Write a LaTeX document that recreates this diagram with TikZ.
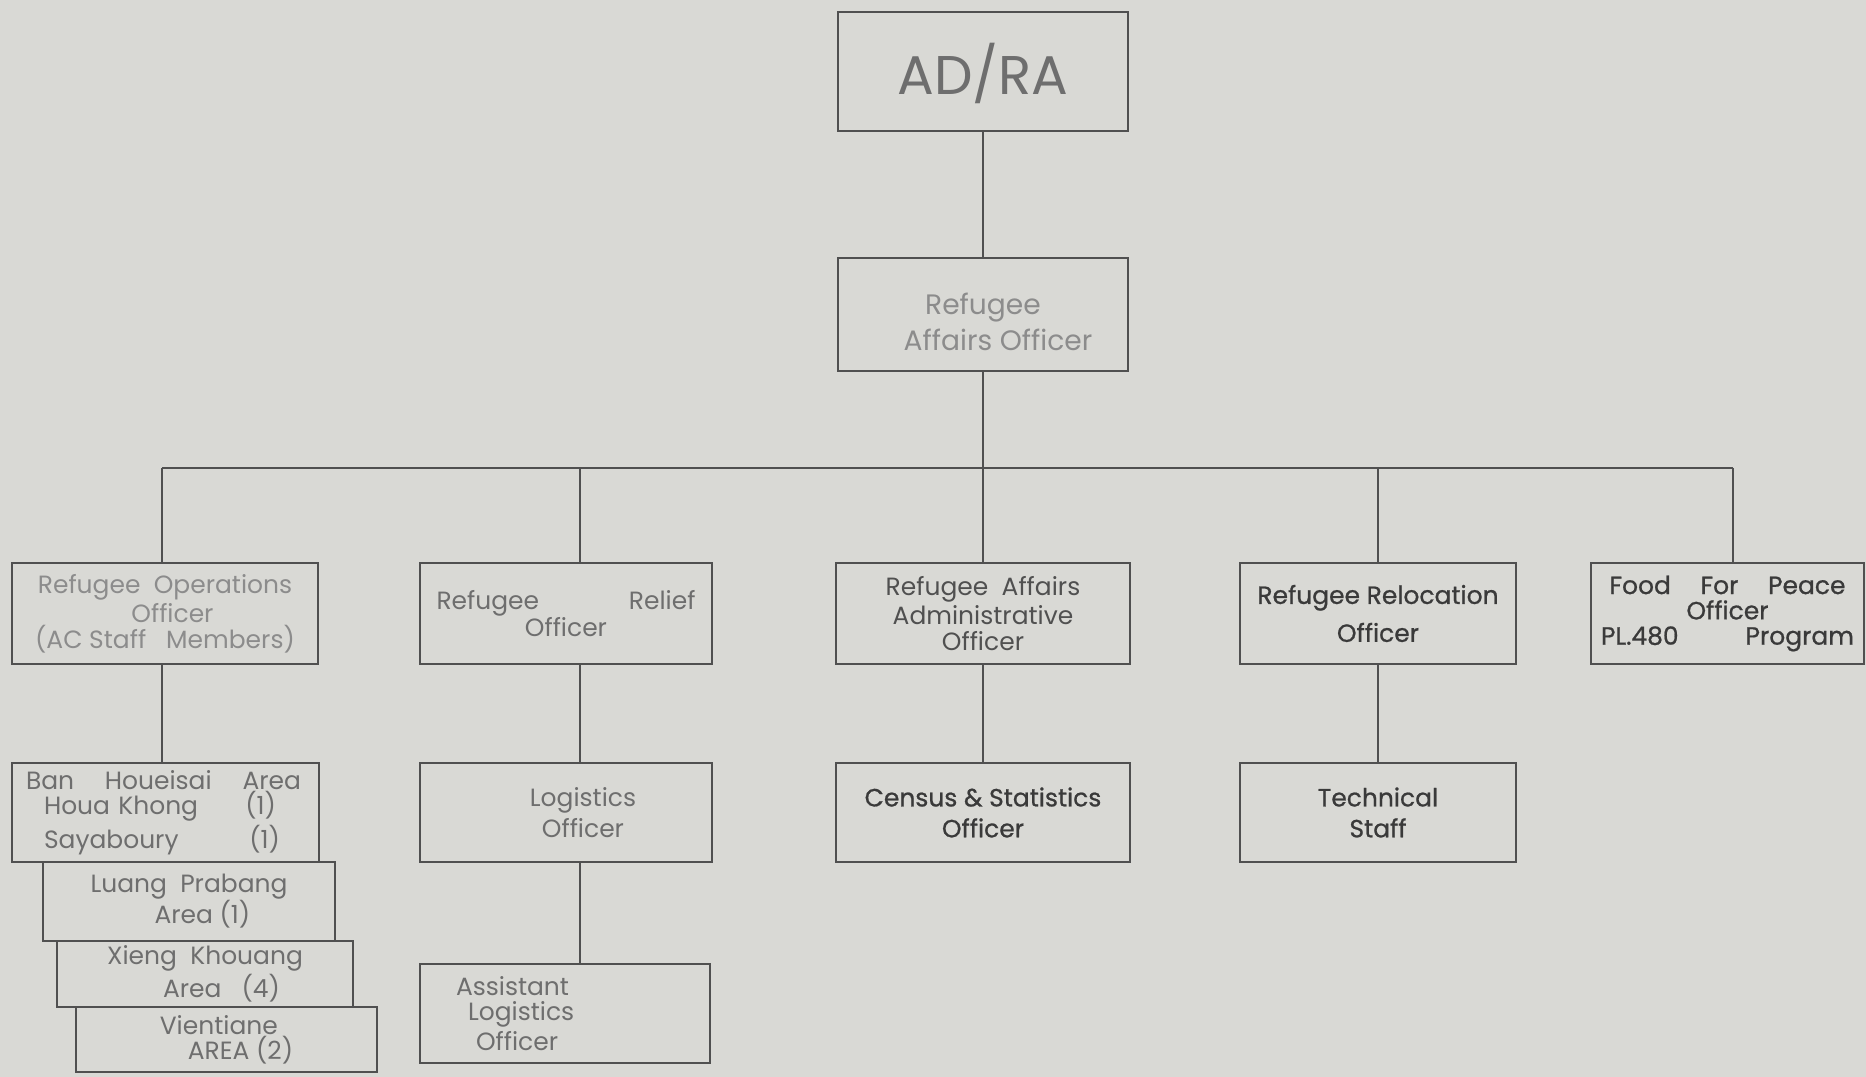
\documentclass[tikz,border=0pt]{standalone}
\usepackage{fontspec}
\setmainfont{Poppins}
\newfontface\heavy{Poppins}[FakeBold=0.8]
\definecolor{paper}{HTML}{D9D9D5}
\definecolor{ink}{HTML}{505050}
\definecolor{pale}{HTML}{8C8C8C}
\definecolor{mid}{HTML}{6E6E6E}
\definecolor{deep}{HTML}{3A3A3A}
\tikzset{
  box/.style={draw=ink, line width=0.8pt, rectangle, inner sep=0pt, align=center,
    font=\fontsize{7.1}{7.2}\selectfont},
  link/.style={draw=ink, line width=0.8pt},
}
\begin{document}
\begin{tikzpicture}[x=0.1mm,y=-0.1mm]
  \fill[paper] (0,0) rectangle (1866,1077);
  \useasboundingbox (0,0) rectangle (1866,1077);
  \draw
    (983,71.5) node[box, minimum width=29mm, minimum height=11.9mm, text=mid,
      font=\fontsize{15.5}{17}\selectfont] (adra) {\raisebox{-2.3mm}[0pt][0pt]{AD/RA}}
    (983,314.5) node[box, minimum width=29mm, minimum height=11.3mm, text=pale,
      font=\fontsize{8}{10}\selectfont] (rao)
      {\raisebox{-1.8mm}[0pt][0pt]{\begin{tabular}{@{}c@{}}Refugee\\\hspace*{3mm}Affairs Officer\end{tabular}}}
    (165,613.5) node[box, minimum width=30.6mm, minimum height=10.1mm, text=pale] (ops)
      {Refugee\ \ Operations\\\hspace*{1.5mm}Officer\\(AC Staff\ \ \ Members)}
    (566,613.5) node[box, minimum width=29.2mm, minimum height=10.1mm, text=mid,
      font=\fontsize{7.1}{7.8}\selectfont] (relief)
      {\makebox[25.9mm]{Refugee\hfill Relief}\\Officer}
    (983,613.5) node[box, minimum width=29.4mm, minimum height=10.1mm, text=ink] (admin)
      {Refugee\ \ Affairs\\Administrative\\Officer}
    (1378,613.5) node[box, minimum width=27.6mm, minimum height=10.1mm, text=deep,
      font=\fontsize{7.1}{10.8}\heavy] (reloc) {Refugee Relocation\\Officer}
    (1727.5,613.5) node[box, minimum width=27.3mm, minimum height=10.1mm, text=deep,
      font=\fontsize{7.1}{7.2}\heavy] (food)
      {\makebox[23.6mm]{Food\hfill For\hfill Peace}\\Officer\\\makebox[25.3mm]{PL.480\hfill Program}}
    (165.5,812.5) node[box, minimum width=30.7mm, minimum height=9.9mm, text=mid, align=left,
      text width=27.9mm] (ban)
      {\makebox[27.5mm]{Ban\hfill Houeisai\hfill Area}\\
       \hspace*{1.8mm}\makebox[23.2mm][l]{Houa Khong\hfill (1)}\\
       \hspace*{1.8mm}\makebox[23.6mm][l]{Sayaboury\hfill (1)}}
    (566,812.5) node[box, minimum width=29.2mm, minimum height=9.9mm, text=mid,
      font=\fontsize{7.1}{8.8}\selectfont] (logi) {\hspace*{3.4mm}Logistics\\\hspace*{3.4mm}Officer}
    (983,812.5) node[box, minimum width=29.4mm, minimum height=9.9mm, text=deep,
      font=\fontsize{7.1}{8.8}\heavy] (census) {Census \& Statistics\\Officer}
    (1378,812.5) node[box, minimum width=27.6mm, minimum height=9.9mm, text=deep,
      font=\fontsize{7.1}{8.8}\heavy] (tech) {Technical\\Staff}
    (189,901.5) node[box, minimum width=29.2mm, minimum height=7.9mm, text=mid, align=left,
      font=\fontsize{7.1}{8.8}\selectfont] (luang) {Luang\ \ Prabang\\\hspace*{6.4mm}Area (1)}
    (205,974) node[box, minimum width=29.6mm, minimum height=6.6mm, text=mid, align=left,
      font=\fontsize{7.1}{6.8}\selectfont] (xieng) {Xieng\ \ Khouang\\\hspace*{5.6mm}Area\ \ \ (4)}
    (226.5,1039.5) node[box, minimum width=30.1mm, minimum height=6.5mm, text=mid, align=left] (vient)
      {Vientiane\\\hspace*{2.8mm}AREA (2)}
    (565,1013.5) node[box, minimum width=29mm, minimum height=9.9mm, text=mid, align=left,
      text width=21.8mm] (asst)
      {Assistant\\\hspace*{1.2mm}Logistics\\\hspace*{2mm}Officer};
  \coordinate (bl) at (162,468);
  \coordinate (b1) at (580,468);
  \coordinate (b2) at (983,468);
  \coordinate (b3) at (1378,468);
  \coordinate (br) at (1733,468);
  \begin{scope}[link]
    \draw (adra) to (rao);
    \draw (rao) to (b2);
    \draw (bl) to (br);
    \draw (bl) to (bl |- ops.north);
    \draw (b1) to (b1 |- relief.north);
    \draw (b2) to (admin);
    \draw (b3) to (reloc);
    \draw (br) to (br |- food.north);
    \draw (ops.south -| bl) to (ban.north -| bl);
    \draw (relief.south -| b1) to (logi.north -| b1);
    \draw (logi.south -| b1) to (asst.north -| b1);
    \draw (admin) to (census);
    \draw (reloc) to (tech);
  \end{scope}
\end{tikzpicture}
\end{document}
